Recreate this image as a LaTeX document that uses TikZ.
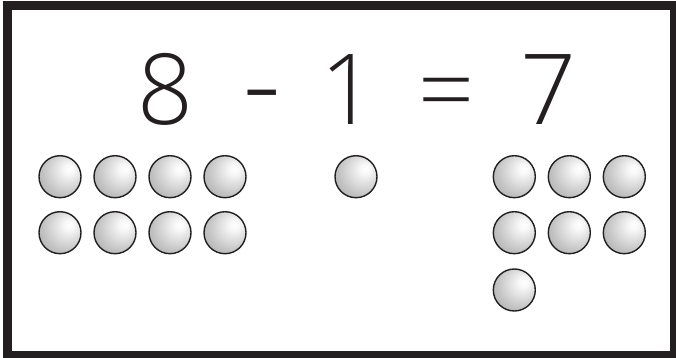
\documentclass[tikz,border=0pt]{standalone}
\usepackage{fontspec}
\IfFontExistsTF{Open Sans Light}{\setmainfont{Open Sans Light}}{\setmainfont{Open Sans}}
\definecolor{ink}{HTML}{231F20}
\pgfdeclareradialshading{ballshade}{\pgfpoint{12bp}{10bp}}{%
  color(0bp)=(white);
  color(6bp)=(white!97!black);
  color(28bp)=(white!76!black);
  color(50bp)=(white!60!black);
  color(72bp)=(white!48!black)}
\begin{document}
\begin{tikzpicture}[x=1pt,y=-1pt,
  ball/.style={circle,draw=ink,line width=1.4pt,minimum size=42pt,inner sep=0pt,shading=ballshade},
  digit/.style={anchor=base,inner sep=0pt,text=ink,font=\fontsize{98}{100}\selectfont}]
\useasboundingbox (0,0) rectangle (676,358);
\draw[ink,line width=9pt] (7,6) rectangle (674.5,355);
% equation
\node[digit] (n8) at (165,125) {8};
\node[digit,xscale=1.25,yscale=1.35] (minus) at (262.5,129) {-};
\node[digit] (n1) at (348,125) {1};
\node[digit] (eq) at (446,125) {=};
\node[digit] (n7) at (548,125) {7};
% eight balls
\foreach \i/\x in {1/60,2/115,3/170,4/225}{
  \node[ball] (a\i) at (\x,176.7) {};
  \node[ball] (b\i) at (\x,232.7) {};
}
% one ball
\node[ball] (m1) at (356,176.7) {};
% seven balls
\foreach \i/\x in {1/514.3,2/569.3,3/624.3}{
  \node[ball] (c\i) at (\x,176.7) {};
  \node[ball] (d\i) at (\x,232.7) {};
}
\node[ball] (e1) at (514.3,290) {};
\end{tikzpicture}
\end{document}
